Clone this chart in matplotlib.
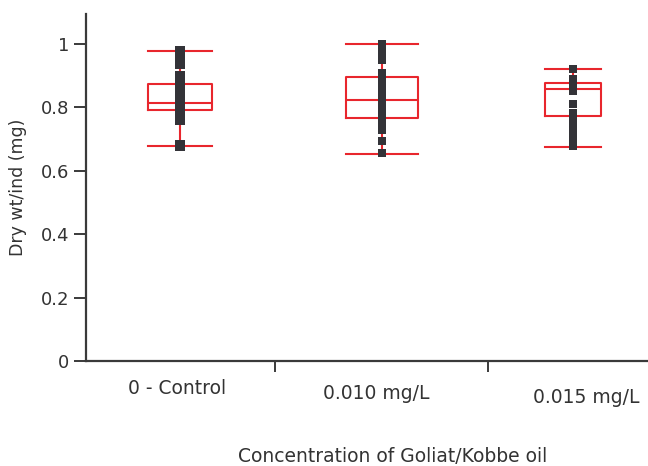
import matplotlib
matplotlib.use("Agg")
import matplotlib.pyplot as plt
import numpy as np

# Data
groups = ["0 - Control", "0.010 mg/L", "0.015 mg/L"]
positions = [1.053, 2.0, 2.897]
label_x = [1.038, 1.976, 2.959]
label_y = [-0.078, -0.092, -0.103]
box_widths = [0.30, 0.34, 0.264]

medians = [0.813, 0.821, 0.858]
q1 = [0.791, 0.766, 0.773]
q3 = [0.872, 0.895, 0.877]
whis_lo = [0.677, 0.652, 0.675]
whis_hi = [0.976, 0.998, 0.920]

control_pts = [0.978, 0.965, 0.950, 0.937, 0.898, 0.885, 0.872, 0.860, 0.847,
               0.835, 0.822, 0.809, 0.797, 0.784, 0.772, 0.759, 0.680, 0.677]
low_pts = [0.998, 0.990, 0.980, 0.972, 0.948, 0.906, 0.891, 0.865, 0.854, 0.841,
           0.828, 0.816, 0.803, 0.791, 0.778, 0.765, 0.753, 0.740, 0.729, 0.693, 0.655]
high_pts = [0.921, 0.888, 0.872, 0.852, 0.811, 0.783, 0.770, 0.757, 0.745,
            0.732, 0.720, 0.704, 0.677]
points = [control_pts, low_pts, high_pts]
pt_x = [1.053, 2.003, 2.9]
marker_sizes = [7.5, 5.2, 5.2]

red = "#e8262d"
dark = "#333338"
spine = "#3a3a3a"

fig = plt.figure(figsize=(6.48, 4.66), dpi=100)
ax = fig.add_axes([0.1327, 0.2243, 0.8673, 0.7457])

stats = []
for i in range(len(groups)):
    stats.append(dict(med=medians[i], q1=q1[i], q3=q3[i],
                      whislo=whis_lo[i], whishi=whis_hi[i], fliers=[]))

line = dict(color=red, linewidth=1.5)
ax.bxp(stats, positions=positions, widths=box_widths, showfliers=False,
       boxprops=line, medianprops=line, whiskerprops=line, capprops=line,
       capwidths=box_widths, manage_ticks=False)

for xs, pts, ms in zip(pt_x, points, marker_sizes):
    ax.plot([xs] * len(pts), pts, linestyle="none", marker="s",
            markersize=ms, color=dark, markeredgewidth=0, zorder=3)

ax.set_xlim(0.611, 3.25)
ax.set_ylim(0, 1.093)

ax.set_yticks([0, 0.2, 0.4, 0.6, 0.8, 1.0])
ax.set_yticklabels(["0", "0.2", "0.4", "0.6", "0.8", "1"])
ax.set_xticks([1.5, 2.5])
ax.set_xticklabels([])

for s in ["top", "right"]:
    ax.spines[s].set_visible(False)
for s in ["left", "bottom"]:
    ax.spines[s].set_linewidth(1.6)
    ax.spines[s].set_color(spine)

ax.tick_params(axis="y", length=9, width=1.4, color=spine, labelsize=13,
               labelcolor="#333333", pad=3)
ax.tick_params(axis="x", length=8, width=1.4, color=spine)

for xp, yp, name in zip(label_x, label_y, groups):
    ax.text(xp, yp, name, transform=ax.get_xaxis_transform(), ha="center",
            va="center", fontsize=13.5, color="#333333")

ax.set_xlabel("Concentration of Goliat/Kobbe oil", fontsize=13.5, color="#333333")
ax.xaxis.set_label_coords(0.546, -0.245)
ax.set_ylabel("Dry wt/ind (mg)", fontsize=12.5, color="#333333")
ax.yaxis.set_label_coords(-0.105, 0.5)

fig.savefig("out.png", dpi=100)
